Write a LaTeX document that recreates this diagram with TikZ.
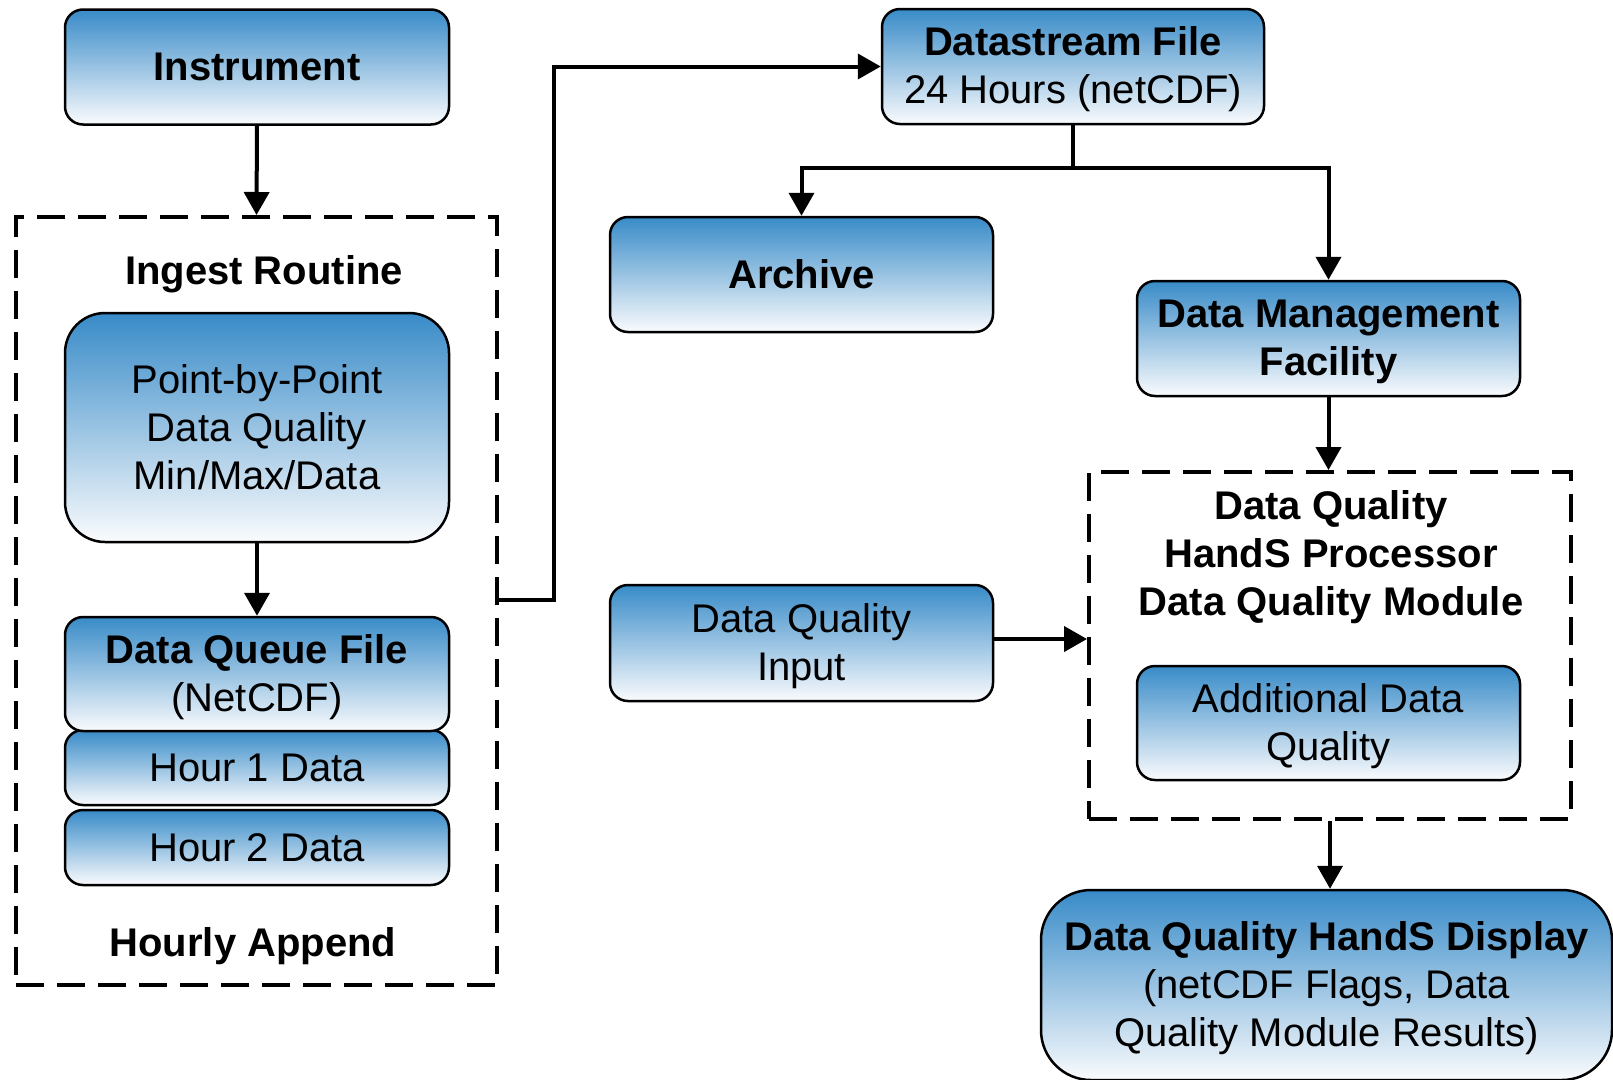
\documentclass[tikz,border=0pt]{standalone}
\usepackage{fontspec}
\setmainfont{Liberation Sans}
\usetikzlibrary{arrows.meta,calc}
\definecolor{boxblue}{RGB}{56,139,200}
\definecolor{boxwhite}{RGB}{250,251,253}
\newcommand{\fstrut}{\rule{0pt}{35pt}}
\tikzset{
  box/.style={draw=black, line width=2.5pt, rounded corners=18pt, top color=boxblue, bottom color=boxwhite, align=center, inner sep=0pt, font=\fontsize{40}{48}\selectfont, text=black},
  dashbox/.style={draw=black, line width=4pt, dash pattern=on 28pt off 13pt, inner sep=0pt},
  arr/.style={line width=4pt, -{Triangle[length=23pt,width=25pt]}},
  lbl/.style={font=\fontsize{40}{48}\selectfont\bfseries, align=center, inner sep=0pt},
}
\begin{document}
\begin{tikzpicture}[x=1pt,y=-1pt]
\useasboundingbox (0,0) rectangle (1613,1079);
% left column
\node[box, minimum width=384pt, minimum height=115pt] (instr) at (257,67) {\textbf{Instrument}};
\node[dashbox, minimum width=481pt, minimum height=768pt] (ingest) at (256.5,601) {};
\node[lbl] (ingestlbl) at (264,274) {Ingest Routine};
\node[box, rounded corners=40pt, minimum width=384pt, minimum height=229pt] (pbp) at (257,427.5) {Point-by-Point\\Data Quality\\Min/Max/Data};
\node[box, minimum width=384pt, minimum height=75pt] (hour2) at (257,847.5) {Hour 2 Data};
\node[box, minimum width=384pt, minimum height=75pt] (hour1) at (257,767.5) {Hour 1 Data};
\node[box, minimum width=384pt, minimum height=114pt] (dqf) at (257,674) {\fstrut\textbf{Data Queue File}\\(NetCDF)};
\node[lbl] (hourly) at (253,946) {Hourly Append};
% right part
\node[box, minimum width=382pt, minimum height=115pt] (ds) at (1073,66.5) {\fstrut\textbf{Datastream File}\\24 Hours (netCDF)};
\node[box, minimum width=383pt, minimum height=115pt] (archive) at (801.5,274.5) {\textbf{Archive}};
\node[box, minimum width=383pt, minimum height=115pt] (dmf) at (1328.5,338.5) {\fstrut\textbf{Data Management}\\\textbf{Facility}};
\node[dashbox, minimum width=482pt, minimum height=347pt] (dqbox) at (1330,645.5) {};
\node[lbl] (dqlbl) at (1331,557) {Data Quality\\HandS Processor\\Data Quality Module};
\node[box, minimum width=383pt, minimum height=114pt] (adq) at (1328.5,723) {\fstrut Additional Data\\Quality};
\node[box, minimum width=383pt, minimum height=116pt] (dqi) at (801.5,643) {\fstrut Data Quality\\Input};
\node[box, rounded corners=50pt, minimum width=571pt, minimum height=190pt] (disp) at (1326.5,985) {\fstrut\textbf{Data Quality HandS Display}\\(netCDF Flags, Data\\Quality Module Results)};
% connectors
\coordinate (j1) at (554,600);
\coordinate (br) at (1073,168);
\coordinate (dqiout) at ([yshift=4pt]dqi.east);
\draw[arr] (instr.south) -- (ingest.north);
\draw[arr] (pbp.south) -- (dqf.north);
\draw[arr] (j1 -| ingest.east) -- (j1) |- (ds.west);
\draw[line width=4pt] (ds.south) -- (ds.south |- br);
\draw[arr] (ds.south |- br) -| (archive.north);
\draw[arr] (ds.south |- br) -| (dmf.north);
\draw[arr] (dmf.south) -- (dmf.south |- dqbox.north);
\draw[arr] (dqiout) -- (dqiout -| dqbox.west);
\draw[arr] (dqbox.south) -- (dqbox.south |- disp.north);
\end{tikzpicture}
\end{document}
